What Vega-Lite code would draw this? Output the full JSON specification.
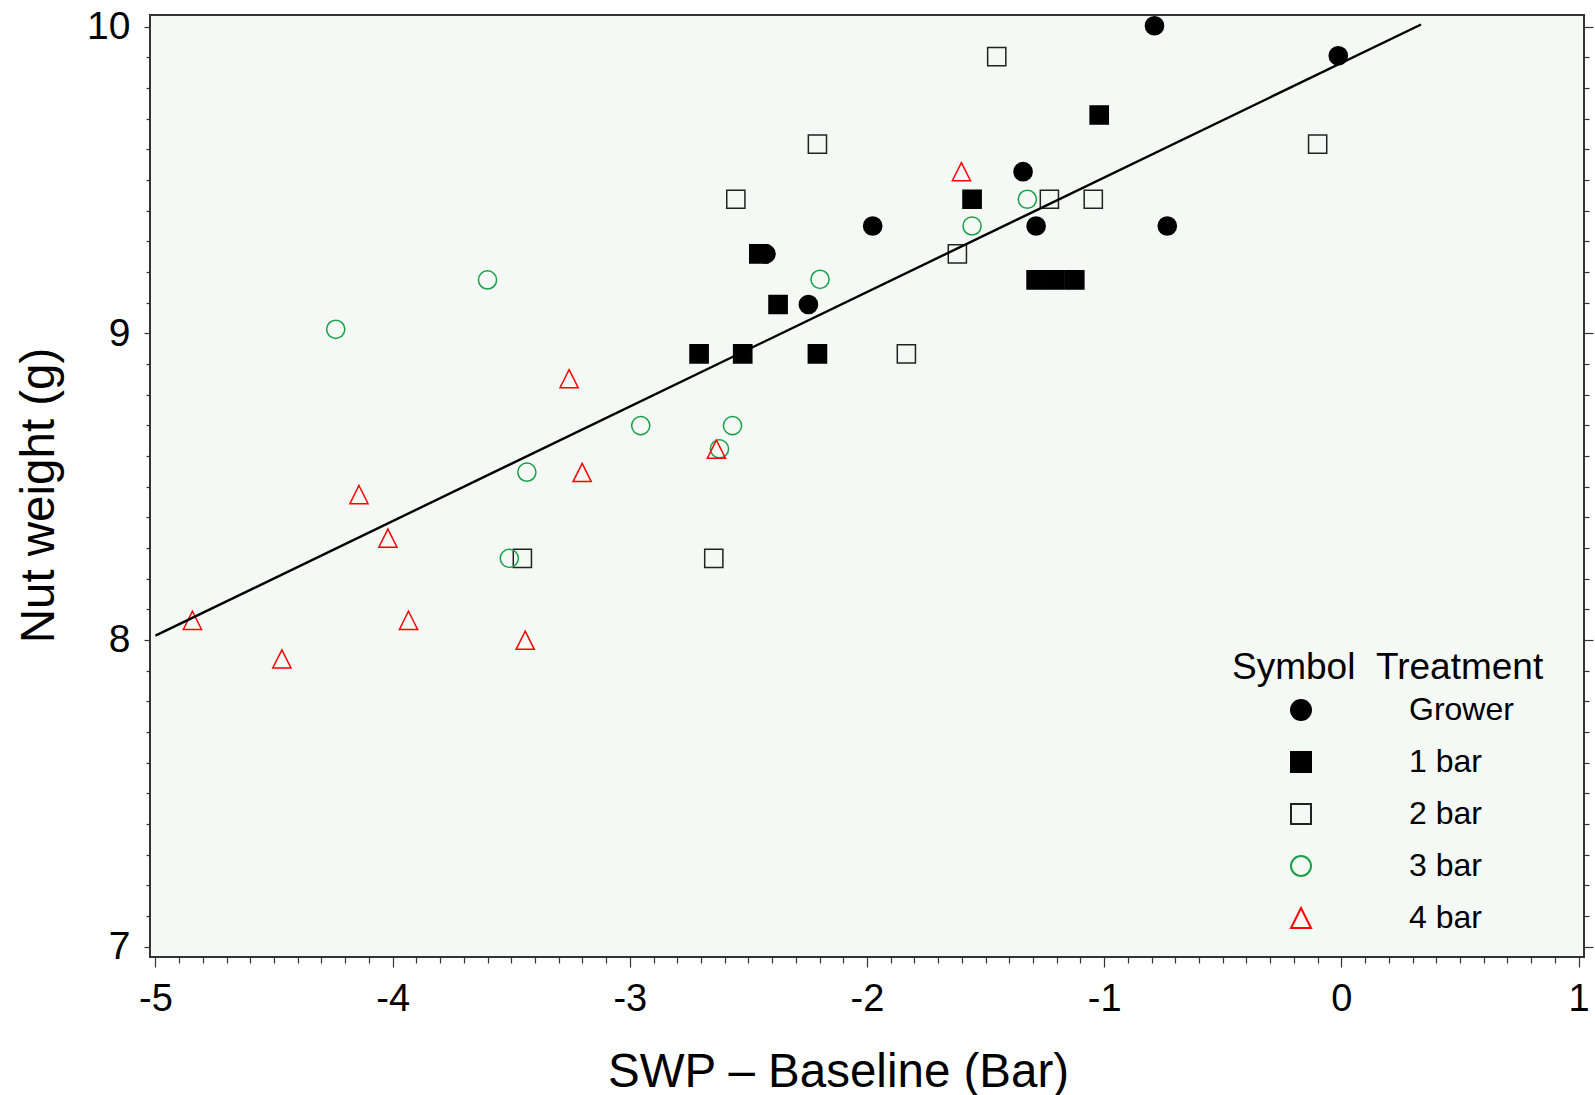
{
  "$schema": "https://vega.github.io/schema/vega-lite/v6.json",
  "autosize": "none",
  "width": 1434,
  "height": 942,
  "padding": {"left": 150, "top": 15, "right": 11, "bottom": 138},
  "background": "white",
  "config": {
    "view": {"fill": "#f4f9f5", "stroke": "#333333", "strokeWidth": 2},
    "font": "Liberation Sans",
    "axis": {
      "labelFont": "Liberation Sans",
      "titleFont": "Liberation Sans",
      "labelColor": "black",
      "titleColor": "black",
      "titleFontWeight": "normal",
      "grid": false,
      "domain": false,
      "tickColor": "#333333",
      "tickWidth": 1.2,
      "labelOverlap": false,
      "labelBound": false
    }
  },
  "datasets": {
    "points": [
      {"Treatment": "Grower", "x": -2.426, "y": 9.259},
      {"Treatment": "Grower", "x": -1.976, "y": 9.35},
      {"Treatment": "Grower", "x": -2.247, "y": 9.094},
      {"Treatment": "Grower", "x": -0.788, "y": 10.003},
      {"Treatment": "Grower", "x": -0.013, "y": 9.905},
      {"Treatment": "Grower", "x": -1.342, "y": 9.527},
      {"Treatment": "Grower", "x": -1.287, "y": 9.35},
      {"Treatment": "Grower", "x": -0.734, "y": 9.35},
      {"Treatment": "1 bar", "x": -2.456, "y": 9.259},
      {"Treatment": "1 bar", "x": -2.375, "y": 9.094},
      {"Treatment": "1 bar", "x": -2.708, "y": 8.933},
      {"Treatment": "1 bar", "x": -2.524, "y": 8.933},
      {"Treatment": "1 bar", "x": -2.209, "y": 8.933},
      {"Treatment": "1 bar", "x": -1.021, "y": 9.712},
      {"Treatment": "1 bar", "x": -1.557, "y": 9.437},
      {"Treatment": "1 bar", "x": -1.287, "y": 9.174},
      {"Treatment": "1 bar", "x": -1.207, "y": 9.174},
      {"Treatment": "1 bar", "x": -1.124, "y": 9.174},
      {"Treatment": "2 bar", "x": -3.453, "y": 8.266},
      {"Treatment": "2 bar", "x": -2.553, "y": 9.437},
      {"Treatment": "2 bar", "x": -2.209, "y": 9.617},
      {"Treatment": "2 bar", "x": -1.834, "y": 8.933},
      {"Treatment": "2 bar", "x": -1.619, "y": 9.259},
      {"Treatment": "2 bar", "x": -2.646, "y": 8.266},
      {"Treatment": "2 bar", "x": -1.453, "y": 9.902},
      {"Treatment": "2 bar", "x": -0.1, "y": 9.617},
      {"Treatment": "2 bar", "x": -1.231, "y": 9.437},
      {"Treatment": "2 bar", "x": -1.046, "y": 9.437},
      {"Treatment": "3 bar", "x": -3.6, "y": 9.174},
      {"Treatment": "3 bar", "x": -4.24, "y": 9.013},
      {"Treatment": "3 bar", "x": -3.434, "y": 8.547},
      {"Treatment": "3 bar", "x": -3.508, "y": 8.266},
      {"Treatment": "3 bar", "x": -2.198, "y": 9.176},
      {"Treatment": "3 bar", "x": -2.954, "y": 8.699},
      {"Treatment": "3 bar", "x": -2.567, "y": 8.699},
      {"Treatment": "3 bar", "x": -2.622, "y": 8.623},
      {"Treatment": "3 bar", "x": -1.324, "y": 9.437},
      {"Treatment": "3 bar", "x": -1.557, "y": 9.35},
      {"Treatment": "4 bar", "x": -4.844, "y": 8.064},
      {"Treatment": "4 bar", "x": -4.142, "y": 8.474},
      {"Treatment": "4 bar", "x": -4.02, "y": 8.332},
      {"Treatment": "4 bar", "x": -3.933, "y": 8.064},
      {"Treatment": "4 bar", "x": -4.467, "y": 7.938},
      {"Treatment": "4 bar", "x": -3.441, "y": 7.999},
      {"Treatment": "4 bar", "x": -3.256, "y": 8.852},
      {"Treatment": "4 bar", "x": -3.201, "y": 8.546},
      {"Treatment": "4 bar", "x": -2.635, "y": 8.622},
      {"Treatment": "4 bar", "x": -1.602, "y": 9.527}
    ],
    "fit": [
      {"x": -5.0, "y": 8.014},
      {"x": 0.336, "y": 10.007}
    ]
  },
  "layer": [
    {
      "data": {"name": "points"},
      "mark": {"type": "point", "opacity": 1, "strokeWidth": 1.5, "size": 330},
      "encoding": {
        "x": {
          "field": "x",
          "type": "quantitative",
          "scale": {"domain": [-5.023, 1.023], "nice": false, "zero": false},
          "axis": {
            "orient": "bottom",
            "values": [-5,-4.9,-4.8,-4.7,-4.6,-4.5,-4.4,-4.3,-4.2,-4.1,-4,-3.9,-3.8,-3.7,-3.6,-3.5,-3.4,-3.3,-3.2,-3.1,-3,-2.9,-2.8,-2.7,-2.6,-2.5,-2.4,-2.3,-2.2,-2.1,-2,-1.9,-1.8,-1.7,-1.6,-1.5,-1.4,-1.3,-1.2,-1.1,-1,-0.9,-0.8,-0.7,-0.6,-0.5,-0.4,-0.3,-0.2,-0.1,0,0.1,0.2,0.3,0.4,0.5,0.6,0.7,0.8,0.9,1],
            "tickSize": {"condition": {"test": "abs(datum.value - round(datum.value)) < 0.001", "value": 10}, "value": 6},
            "labelExpr": "abs(datum.value - round(datum.value)) < 0.001 ? toString(round(datum.value)) : ''",
            "labelFontSize": 38,
            "labelPadding": 13,
            "title": "SWP – Baseline (Bar)",
            "titleFontSize": 47.5,
            "titleX": 688,
            "titleY": 129,
            "titleBaseline": "alphabetic",
            "titleAlign": "center"
          }
        },
        "y": {
          "field": "y",
          "type": "quantitative",
          "scale": {"domain": [6.966, 10.038], "nice": false, "zero": false},
          "axis": {
            "orient": "left",
            "values": [7,7.1,7.2,7.3,7.4,7.5,7.6,7.7,7.8,7.9,8,8.1,8.2,8.3,8.4,8.5,8.6,8.7,8.8,8.9,9,9.1,9.2,9.3,9.4,9.5,9.6,9.7,9.8,9.9,10],
            "tickSize": {"condition": {"test": "abs(datum.value - round(datum.value)) < 0.001", "value": 6}, "value": 4},
            "labelExpr": "abs(datum.value - round(datum.value)) < 0.001 ? toString(round(datum.value)) : ''",
            "labelFontSize": 39,
            "labelPadding": 14,
            "title": "Nut weight (g)",
            "titleFontSize": 47.5,
            "titleX": -97,
            "titleY": 480,
            "titleAngle": -90,
            "titleBaseline": "alphabetic",
            "titleAlign": "center"
          }
        },
        "shape": {
          "field": "Treatment",
          "type": "nominal",
          "scale": {"domain": ["Grower", "1 bar", "2 bar", "3 bar", "4 bar"], "range": ["circle", "square", "square", "circle", "M0,-1L1,1L-1,1Z"]},
          "legend": {"orient": "none", "legendX": 1082, "legendY": 635, "direction": "vertical", "title": "Symbol\u00a0\u00a0Treatment", "titleLimit": 0, "titleFontSize": 37, "titleFont": "Liberation Sans", "titleFontWeight": "normal", "titleColor": "black", "titlePadding": 7, "labelFontSize": 32, "labelFont": "Liberation Sans", "labelColor": "black", "labelOffset": 92, "symbolOffset": 53, "symbolSize": 400, "symbolStrokeWidth": 2, "rowPadding": 20, "padding": 0}
        },
        "fill": {
          "field": "Treatment",
          "type": "nominal",
          "scale": {"domain": ["Grower", "1 bar", "2 bar", "3 bar", "4 bar"], "range": ["#000000", "#000000", "transparent", "transparent", "transparent"]},
          "legend": {"orient": "none", "legendX": 1082, "legendY": 635, "direction": "vertical", "title": "Symbol\u00a0\u00a0Treatment", "titleLimit": 0, "titleFontSize": 37, "titleFont": "Liberation Sans", "titleFontWeight": "normal", "titleColor": "black", "titlePadding": 7, "labelFontSize": 32, "labelFont": "Liberation Sans", "labelColor": "black", "labelOffset": 92, "symbolOffset": 53, "symbolSize": 400, "symbolStrokeWidth": 2, "rowPadding": 20, "padding": 0}
        },
        "stroke": {
          "field": "Treatment",
          "type": "nominal",
          "scale": {"domain": ["Grower", "1 bar", "2 bar", "3 bar", "4 bar"], "range": ["#000000", "#000000", "#222222", "#18a048", "#ff0000"]},
          "legend": {"orient": "none", "legendX": 1082, "legendY": 635, "direction": "vertical", "title": "Symbol\u00a0\u00a0Treatment", "titleLimit": 0, "titleFontSize": 37, "titleFont": "Liberation Sans", "titleFontWeight": "normal", "titleColor": "black", "titlePadding": 7, "labelFontSize": 32, "labelFont": "Liberation Sans", "labelColor": "black", "labelOffset": 92, "symbolOffset": 53, "symbolSize": 400, "symbolStrokeWidth": 2, "rowPadding": 20, "padding": 0}
        }
      }
    },
    {
      "data": {"name": "fit"},
      "mark": {"type": "line", "color": "black", "strokeWidth": 2.4},
      "encoding": {
        "x": {"field": "x", "type": "quantitative", "axis": null},
        "y": {
          "field": "y",
          "type": "quantitative",
          "axis": {
            "orient": "right",
            "title": null,
            "labels": false,
            "values": [7,7.1,7.2,7.3,7.4,7.5,7.6,7.7,7.8,7.9,8,8.1,8.2,8.3,8.4,8.5,8.6,8.7,8.8,8.9,9,9.1,9.2,9.3,9.4,9.5,9.6,9.7,9.8,9.9,10],
            "tickSize": {"condition": {"test": "abs(datum.value - round(datum.value)) < 0.001", "value": 9}, "value": 5}
          }
        }
      }
    }
  ],
  "resolve": {"axis": {"x": "independent", "y": "independent"}}
}
